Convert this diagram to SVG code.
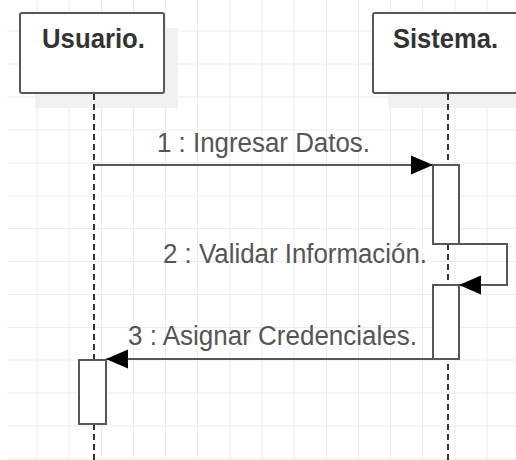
<svg xmlns="http://www.w3.org/2000/svg" width="516" height="460" viewBox="0 0 516 460">
<style>
.grid line{stroke:#ececec;stroke-width:1}
.shadow{fill:#f1f1f1}
.box{fill:#fff;stroke:#575757;stroke-width:2}
.title{font-family:"Liberation Sans",Arial,sans-serif;font-size:27px;font-weight:bold;fill:#333}
.msg{font-family:"Liberation Sans",Arial,sans-serif;font-size:27px;fill:#555}
.life{stroke:#333;stroke-width:2;stroke-dasharray:6 4;fill:none}
.act{fill:#fff;stroke:#575757;stroke-width:2}
.conn{fill:none;stroke:#575757;stroke-width:2}
</style>
<defs>
<marker id="arr" markerUnits="userSpaceOnUse" markerWidth="23" markerHeight="20" refX="22" refY="9.5" orient="auto" overflow="visible">
<path d="M0,0 L22,9.5 L0,19 Z" fill="#000"/>
</marker>
</defs>
<rect width="516" height="460" fill="#fff"/>
<g class="grid">
<line x1="37" y1="0" x2="37" y2="460"/><line x1="69" y1="0" x2="69" y2="460"/><line x1="101.5" y1="0" x2="101.5" y2="460"/><line x1="133.5" y1="0" x2="133.5" y2="460"/><line x1="165.5" y1="0" x2="165.5" y2="460"/><line x1="197.5" y1="0" x2="197.5" y2="460"/><line x1="230" y1="0" x2="230" y2="460"/><line x1="262" y1="0" x2="262" y2="460"/><line x1="294" y1="0" x2="294" y2="460"/><line x1="326.5" y1="0" x2="326.5" y2="460"/><line x1="358.5" y1="0" x2="358.5" y2="460"/><line x1="390.5" y1="0" x2="390.5" y2="460"/><line x1="422.5" y1="0" x2="422.5" y2="460"/><line x1="455" y1="0" x2="455" y2="460"/><line x1="487" y1="0" x2="487" y2="460"/>
<line x1="7" y1="31" x2="516" y2="31"/><line x1="7" y1="64" x2="516" y2="64"/><line x1="7" y1="97" x2="516" y2="97"/><line x1="7" y1="130" x2="516" y2="130"/><line x1="7" y1="163" x2="516" y2="163"/><line x1="7" y1="196" x2="516" y2="196"/><line x1="7" y1="228.5" x2="516" y2="228.5"/><line x1="7" y1="261.5" x2="516" y2="261.5"/><line x1="7" y1="294.5" x2="516" y2="294.5"/><line x1="7" y1="327.5" x2="516" y2="327.5"/><line x1="7" y1="360" x2="516" y2="360"/><line x1="7" y1="393" x2="516" y2="393"/><line x1="7" y1="426" x2="516" y2="426"/><line x1="7" y1="459" x2="516" y2="459"/>
</g>
<g id="usuario">
<rect class="shadow" x="35" y="28" width="143" height="80"/>
<rect class="box" x="20" y="13" width="144" height="80" rx="2"/>
<text class="title" x="42" y="48" textLength="103" lengthAdjust="spacingAndGlyphs">Usuario.</text>
<line class="life" x1="94" y1="94" x2="94" y2="460"/>
<rect class="act" x="79" y="360" width="27" height="64"/>
</g>
<g id="sistema">
<rect class="shadow" x="388" y="28" width="143" height="80"/>
<rect class="box" x="373" y="13" width="144" height="80" rx="2"/>
<text class="title" x="393" y="48" textLength="105" lengthAdjust="spacingAndGlyphs">Sistema.</text>
<line class="life" x1="448" y1="94" x2="448" y2="460"/>
<rect class="act" x="433" y="165" width="26" height="79"/>
<rect class="act" x="433" y="285" width="26" height="74"/>
</g>
<g id="connectors">
<path class="conn" d="M94,165 H433" marker-end="url(#arr)"/>
<path class="conn" d="M459,244 H507 V285 H459" marker-end="url(#arr)"/>
<path class="conn" d="M433,359 H106" marker-end="url(#arr)"/>
<text class="msg" x="157" y="152" textLength="213" lengthAdjust="spacingAndGlyphs">1 : Ingresar Datos.</text>
<text class="msg" x="163" y="263" textLength="264" lengthAdjust="spacingAndGlyphs">2 : Validar Información.</text>
<text class="msg" x="128" y="345" textLength="289" lengthAdjust="spacingAndGlyphs">3 : Asignar Credenciales.</text>
</g>
</svg>
